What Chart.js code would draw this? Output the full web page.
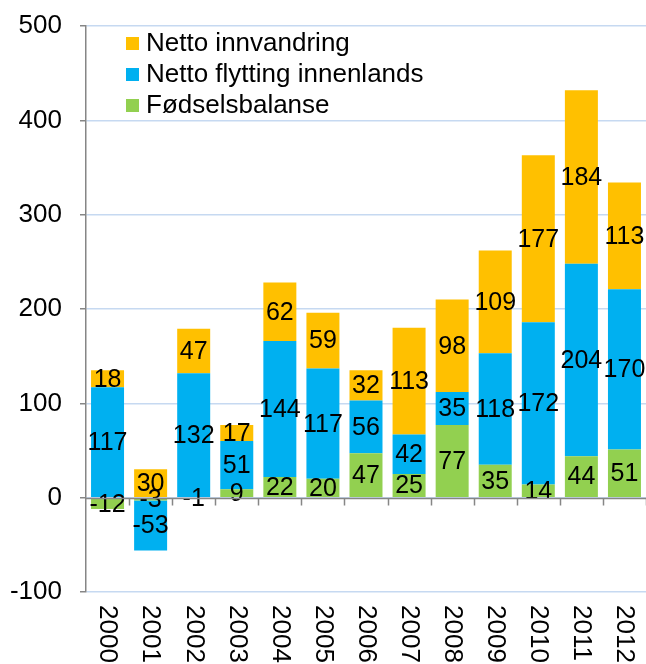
<!DOCTYPE html>
<html>
<head>
<meta charset="utf-8">
<script src="https://cdn.jsdelivr.net/npm/chart.js@4.4.1/dist/chart.umd.min.js"></script>
<style>
  html, body { margin: 0; padding: 0; background: #fff; overflow: hidden; }
  #wrap { width: 660px; height: 664px; }
</style>
</head>
<body>
<div id="wrap"><canvas id="chart" width="660" height="664"></canvas></div>
<script>
const years = ['2000', '2001', '2002', '2003', '2004', '2005', '2006', '2007', '2008', '2009', '2010', '2011', '2012'];
const fodselsbalanse = [-12, -3, -1, 9, 22, 20, 47, 25, 77, 35, 14, 44, 51];
const flyttingInnenlands = [117, -53, 132, 51, 144, 117, 56, 42, 35, 118, 172, 204, 170];
const innvandring = [18, 30, 47, 17, 62, 59, 32, 113, 98, 109, 177, 184, 113];
const yTicks = [-100, 0, 100, 200, 300, 400, 500];

const FONT = '"Liberation Sans", Arial, sans-serif';
const AXIS = '#868686';
const GRID = '#C6D9F1';

// values written in the middle of every segment
const valueLabels = {
  id: 'valueLabels',
  afterDatasetsDraw(chart) {
    const ctx = chart.ctx;
    ctx.save();
    ctx.font = '25px ' + FONT;
    ctx.fillStyle = '#000';
    ctx.textAlign = 'center';
    ctx.textBaseline = 'middle';
    chart.data.datasets.forEach((ds, i) => {
      chart.getDatasetMeta(i).data.forEach((bar, j) => {
        const y = (bar.y + bar.base) / 2;
        ctx.fillText(String(ds.data[j]), bar.x, y + 1);
      });
    });
    ctx.restore();
  }
};

// zero axis line with ticks, rotated year labels and the legend
const extras = {
  id: 'extras',
  afterDraw(chart) {
    const ctx = chart.ctx;
    const xs = chart.scales.x;
    const ys = chart.scales.y;
    const area = chart.chartArea;
    const y0 = Math.round(ys.getPixelForValue(0)) + 0.5;
    ctx.save();
    ctx.strokeStyle = AXIS;
    ctx.lineWidth = 1.5;
    ctx.beginPath();
    ctx.moveTo(area.left, y0);
    ctx.lineTo(area.right, y0);
    const step = (area.right - area.left) / years.length;
    for (let i = 1; i <= years.length; i++) {
      const x = Math.round(area.left + i * step) + 0.5;
      ctx.moveTo(x, y0);
      ctx.lineTo(x, y0 + 7);
    }
    ctx.stroke();

    ctx.fillStyle = '#000';
    ctx.font = '26px ' + FONT;
    ctx.textAlign = 'left';
    ctx.textBaseline = 'middle';
    years.forEach((yr, i) => {
      const x = xs.getPixelForValue(i);
      ctx.save();
      ctx.translate(x, area.bottom + 13);
      ctx.rotate(Math.PI / 2);
      ctx.fillText(yr, 0, 0);
      ctx.restore();
    });

    const items = [chart.data.datasets[2], chart.data.datasets[1], chart.data.datasets[0]];
    ctx.font = '26px ' + FONT;
    items.forEach((ds, i) => {
      const cy = 43 + i * 31;
      ctx.fillStyle = ds.backgroundColor;
      ctx.fillRect(126, cy - 6, 13, 13);
      ctx.fillStyle = '#000';
      ctx.fillText(ds.label, 146, cy + 1);
    });
    ctx.restore();
  }
};

new Chart(document.getElementById('chart'), {
  type: 'bar',
  data: {
    labels: years,
    datasets: [
      { label: 'Fødselsbalanse', data: fodselsbalanse, backgroundColor: '#92D050' },
      { label: 'Netto flytting innenlands', data: flyttingInnenlands, backgroundColor: '#00B0F0' },
      { label: 'Netto innvandring', data: innvandring, backgroundColor: '#FFC000' }
    ]
  },
  options: {
    responsive: false,
    animation: false,
    layout: { padding: { top: 26, right: 14, bottom: 72, left: 0 } },
    datasets: { bar: { categoryPercentage: 1, barPercentage: 0.766 } },
    plugins: { legend: { display: false }, tooltip: { enabled: false } },
    scales: {
      x: { stacked: true, display: false },
      y: {
        stacked: true,
        min: -100,
        max: 500,
        afterBuildTicks(scale) { scale.ticks = yTicks.map(v => ({ value: v })); },
        afterFit(scale) {
          scale.width = 86;
          scale.paddingTop = 0;
          scale.paddingBottom = 0;
        },
        border: { color: AXIS, width: 1.5 },
        grid: {
          color: GRID,
          lineWidth: 1.5,
          tickColor: AXIS,
          tickLength: 6
        },
        ticks: {
          color: '#000',
          padding: 18,
          font: { family: FONT, size: 26 }
        }
      }
    }
  },
  plugins: [valueLabels, extras]
});
</script>
</body>
</html>
